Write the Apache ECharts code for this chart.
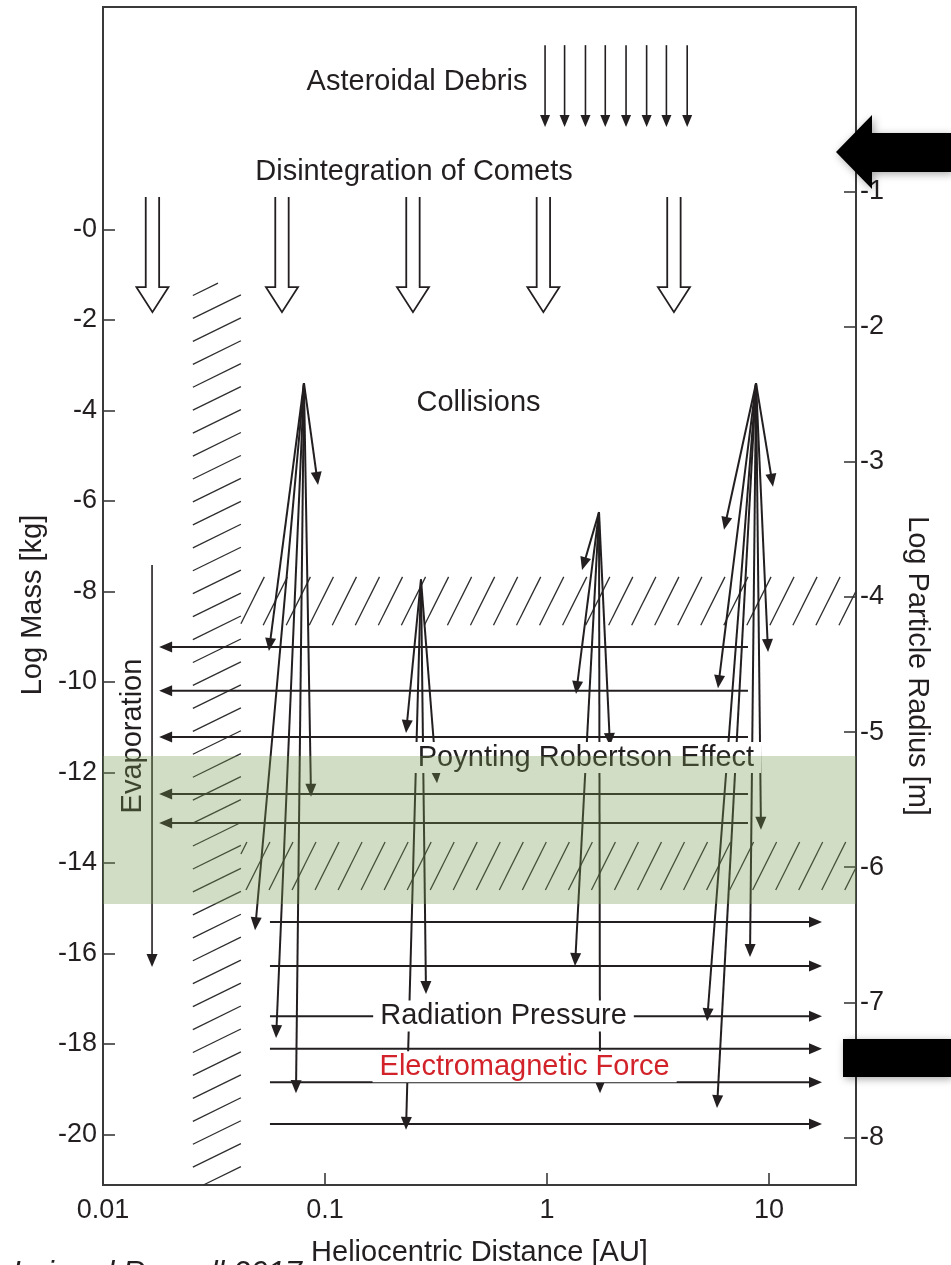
<!DOCTYPE html>
<html>
<head>
<meta charset="utf-8">
<title>Dust sources and sinks in the solar system</title>
<script src="https://cdn.jsdelivr.net/npm/echarts@6.0.0/dist/echarts.min.js"></script>
<style>
  html, body { margin: 0; padding: 0; background: #ffffff; }
  #chart { width: 951px; height: 1265px; }
</style>
</head>
<body>
<div id="chart"></div>
<script>
// ---------- axes ----------
const distanceTicks = [0.01, 0.1, 1, 10];                 // AU
const massTicks = [0, -2, -4, -6, -8, -10, -12, -14, -16, -18, -20];   // log kg
const radiusTicks = [-1, -2, -3, -4, -5, -6, -7, -8];     // log m
const distanceExtent = [0.01, 24.65];
const massExtent = [-21.12, 4.913];
const radiusExtent = [-8.352, 0.367];

// ---------- sources ----------
// asteroidal debris delivered from the main belt (AU), start/end log mass
const asteroidDistances = [0.98, 1.2, 1.49, 1.83, 2.27, 2.81, 3.45, 4.28];
const asteroidMass = [4.07, 2.26];
// disintegrating comets (AU), start/end log mass
const cometDistances = [0.0167, 0.064, 0.249, 0.963, 3.73];
const cometMass = [0.714, -1.83];

// ---------- collisional cascades: parent [AU, log kg] and fragments ----------
const fanApexes = [
  [0.0804, -3.40],
  [0.2706, -7.74],
  [1.715, -6.25],
  [8.74, -3.40]
];
const fanFragments = [
  [[0.0930, -5.65], [0.0559, -9.32], [0.0865, -12.54], [0.0484, -15.49], [0.0602, -17.87], [0.0740, -19.09]],
  [[0.2317, -11.13], [0.3195, -12.24], [0.2851, -16.90], [0.2317, -19.90]],
  [[1.438, -7.53], [1.351, -10.27], [1.922, -11.42], [1.337, -16.28], [1.733, -19.09]],
  [[10.42, -5.69], [6.27, -6.64], [9.90, -9.34], [5.89, -10.14], [9.20, -13.27], [8.21, -16.08], [5.26, -17.50], [5.83, -19.42]]
];

// ---------- transport ----------
// Poynting-Robertson drift toward the Sun
const prMasses = [-9.23, -10.20, -11.22, -12.48, -13.12];
const prDistance = [8.04, 0.0179];
// radiation-pressure blow-out
const radMasses = [-15.31, -16.28, -17.39, -18.11, -18.85, -19.77];
const radDistance = [0.0565, 17.33];
// evaporation near the Sun: distance, start/end log mass
const evaporation = [0.01663, -7.42, -16.3];

// ---------- zones ----------
const sublimationZone = [0.0254, 0.0418, -1.19];            // AU range, upper log mass
const hatchBands = [[-8.75, -7.68], [-14.60, -13.54]];      // log mass ranges
const hatchBandStart = 0.0418;                               // AU
const prBand = [-14.91, -11.64];                             // log mass range

// ---------- annotations ----------
const labelTexts = ['Asteroidal Debris', 'Disintegration of Comets', 'Collisions',
  'Poynting Robertson Effect', 'Radiation Pressure', 'Electromagnetic Force', 'Evaporation'];
const labelAnchors = [[0.2597, 3.262], [0.2518, 1.266], [0.4913, -3.839],
  [1.498, -11.673], [0.6368, -17.385], [0.7927, -18.506], [0.01372, -11.198]];

// ---------- styling ----------
const INK = '#231f20';
const FRAME = '#3a3a3a';
const FONT = '"Liberation Sans", Arial, Helvetica, sans-serif';
const labelLook = [
  {}, {}, {},
  { boxed: true },
  { boxed: true },
  { boxed: true, color: '#d2232a' },
  { rotation: Math.PI / 2 }
];

// ---------- helpers ----------
function arrowRenderer(lineWidth, headLen, headHalf) {
  return function (params, api) {
    const p1 = api.coord([api.value(0), api.value(1)]);
    const p2 = api.coord([api.value(2), api.value(3)]);
    const dx = p2[0] - p1[0], dy = p2[1] - p1[1];
    const len = Math.hypot(dx, dy) || 1;
    const ux = dx / len, uy = dy / len;
    const bx = p2[0] - ux * headLen, by = p2[1] - uy * headLen;
    return {
      type: 'group',
      children: [
        { type: 'line', shape: { x1: p1[0], y1: p1[1], x2: bx + ux * 3, y2: by + uy * 3 },
          style: { stroke: INK, lineWidth: lineWidth } },
        { type: 'polygon',
          shape: { points: [[p2[0], p2[1]], [bx - uy * headHalf, by + ux * headHalf], [bx + uy * headHalf, by - ux * headHalf]] },
          style: { fill: INK } }
      ]
    };
  };
}

// parallel strokes clipped to a rectangle
function hatchSegments(x0, y0, x1, y1, dir, step) {
  const l = Math.hypot(dir[0], dir[1]);
  const d = [dir[0] / l, dir[1] / l];
  const n = [-d[1], d[0]];
  const cs = [[x0, y0], [x1, y0], [x0, y1], [x1, y1]].map(p => p[0] * n[0] + p[1] * n[1]);
  const cmin = Math.min.apply(null, cs), cmax = Math.max.apply(null, cs);
  const segs = [];
  for (let c = Math.ceil(cmin / step) * step; c <= cmax; c += step) {
    const px = n[0] * c, py = n[1] * c;
    let t0 = -Infinity, t1 = Infinity;
    [[0, x0, x1], [1, y0, y1]].forEach(function (b) {
      const k = b[0];
      const base = k === 0 ? px : py;
      if (Math.abs(d[k]) < 1e-9) {
        if (base < b[1] || base > b[2]) { t0 = Infinity; }
        return;
      }
      let ta = (b[1] - base) / d[k], tb = (b[2] - base) / d[k];
      if (ta > tb) { const t = ta; ta = tb; tb = t; }
      t0 = Math.max(t0, ta); t1 = Math.min(t1, tb);
    });
    if (t1 - t0 > 2) segs.push([px + d[0] * t0, py + d[1] * t0, px + d[0] * t1, py + d[1] * t1]);
  }
  return segs;
}

function rectFromApi(api) {
  const a = api.coord([api.value(0), api.value(3)]);
  const b = api.coord([api.value(1), api.value(2)]);
  return {
    x0: Math.min(a[0], b[0]), x1: Math.max(a[0], b[0]),
    y0: Math.min(a[1], b[1]), y1: Math.max(a[1], b[1])
  };
}

// ---------- series data ----------
const asteroidArrows = asteroidDistances.map(x => [x, asteroidMass[0], x, asteroidMass[1]]);
const cometArrows = cometDistances.map(x => [x, cometMass[0], cometMass[1]]);
const collisionArrows = [];
fanApexes.forEach(function (a, i) {
  fanFragments[i].forEach(function (f) { collisionArrows.push([a[0], a[1], f[0], f[1]]); });
});
const transportArrows = []
  .concat(prMasses.map(m => [prDistance[0], m, prDistance[1], m]))
  .concat(radMasses.map(m => [radDistance[0], m, radDistance[1], m]));
const evaporationArrow = [[evaporation[0], evaporation[1], evaporation[0], evaporation[2]]];

const stripData = [[sublimationZone[0], sublimationZone[1], massExtent[0], sublimationZone[2]]];
const bandHatchData = hatchBands.map(b => [hatchBandStart, distanceExtent[1], b[0], b[1]]);
const prBandData = [[distanceExtent[0], distanceExtent[1], prBand[0], prBand[1]]];

function fmtDistance(v) {
  for (let i = 0; i < distanceTicks.length; i++) {
    if (Math.abs(v - distanceTicks[i]) / distanceTicks[i] < 1e-6) return String(distanceTicks[i]);
  }
  return '';
}

const chart = echarts.init(document.getElementById('chart'), null, { renderer: 'canvas' });

const hatchStyle = { stroke: '#2e2e2e', lineWidth: 1.3 };

chart.setOption({
  animation: false,
  backgroundColor: '#ffffff',
  textStyle: { fontFamily: FONT, color: INK },
  grid: {
    left: 103, right: 95, top: 7, bottom: 80,
    containLabel: false, outerBoundsMode: 'none',
    show: true, borderColor: FRAME, borderWidth: 2, backgroundColor: 'transparent'
  },
  xAxis: {
    type: 'log', logBase: 10,
    min: distanceExtent[0], max: distanceExtent[1],
    axisLine: { show: false, onZero: false },
    axisTick: { inside: true, length: 12, lineStyle: { color: FRAME, width: 1.6 } },
    axisLabel: { formatter: fmtDistance, fontSize: 27, color: INK, margin: 12, fontFamily: FONT, showMaxLabel: false },
    splitLine: { show: false },
    minorTick: { show: false },
    name: 'Heliocentric Distance [AU]',
    nameLocation: 'middle', nameGap: 53,
    nameTextStyle: { fontSize: 29, color: INK, fontFamily: FONT }
  },
  yAxis: [
    {
      type: 'value', position: 'left',
      min: massExtent[0], max: massExtent[1],
      axisLine: { show: false, onZero: false },
      axisTick: { inside: true, length: 12, customValues: massTicks, lineStyle: { color: FRAME, width: 1.6 } },
      axisLabel: {
        customValues: massTicks, fontSize: 27, color: INK, margin: 6, fontFamily: FONT,
        formatter: v => (v === 0 ? '-0' : String(v))
      },
      splitLine: { show: false },
      name: 'Log Mass [kg]',
      nameLocation: 'middle', nameGap: 52, nameRotate: 90,
      nameTextStyle: { fontSize: 29, color: INK, fontFamily: FONT, padding: [0, 18, 0, 0] }
    },
    {
      type: 'value', position: 'right',
      min: radiusExtent[0], max: radiusExtent[1],
      axisLine: { show: false, onZero: false },
      axisTick: { inside: true, length: 12, customValues: radiusTicks, lineStyle: { color: FRAME, width: 1.6 } },
      axisLabel: { customValues: radiusTicks, fontSize: 27, color: INK, margin: 4, fontFamily: FONT },
      splitLine: { show: false },
      name: 'Log Particle Radius [m]',
      nameLocation: 'middle', nameGap: 46, nameRotate: -90,
      nameTextStyle: { fontSize: 29, color: INK, fontFamily: FONT, padding: [0, 0, 0, 140] }
    }
  ],
  series: [
    {
      name: 'sublimation zone', type: 'custom', z: 1, silent: true,
      encode: { x: [0, 1], y: [2, 3] },
      data: stripData,
      renderItem: function (params, api) {
        const r = rectFromApi(api);
        return {
          type: 'group',
          children: hatchSegments(r.x0, r.y0, r.x1, r.y1, [1, -0.49], 20.6).map(s => ({
            type: 'line', shape: { x1: s[0], y1: s[1], x2: s[2], y2: s[3] }, style: hatchStyle
          }))
        };
      }
    },
    {
      name: 'hatched bands', type: 'custom', z: 1, silent: true,
      encode: { x: [0, 1], y: [2, 3] },
      data: bandHatchData,
      renderItem: function (params, api) {
        const r = rectFromApi(api);
        return {
          type: 'group',
          children: hatchSegments(r.x0, r.y0, r.x1, r.y1, [0.5, -1], 20.6).map(s => ({
            type: 'line', shape: { x1: s[0], y1: s[1], x2: s[2], y2: s[3] }, style: hatchStyle
          }))
        };
      }
    },
    {
      name: 'asteroidal debris', type: 'custom', z: 2, silent: true,
      encode: { x: [0, 2], y: [1, 3] },
      data: asteroidArrows,
      renderItem: arrowRenderer(1.6, 12, 5)
    },
    {
      name: 'comets', type: 'custom', z: 2, silent: true,
      encode: { x: 0, y: [1, 2] },
      data: cometArrows,
      renderItem: function (params, api) {
        const top = api.coord([api.value(0), api.value(1)]);
        const tip = api.coord([api.value(0), api.value(2)]);
        const cx = top[0], sw = 6.7, hw = 16, base = tip[1] - 25;
        return {
          type: 'polyline',
          shape: { points: [[cx - sw, top[1]], [cx - sw, base], [cx - hw, base], [cx, tip[1]],
                            [cx + hw, base], [cx + sw, base], [cx + sw, top[1]]] },
          style: { stroke: INK, lineWidth: 1.8, fill: null, lineJoin: 'miter' }
        };
      }
    },
    {
      name: 'collisions', type: 'custom', z: 2, silent: true,
      encode: { x: [0, 2], y: [1, 3] },
      data: collisionArrows,
      renderItem: arrowRenderer(2, 13, 5.5)
    },
    {
      name: 'transport', type: 'custom', z: 2, silent: true,
      encode: { x: [0, 2], y: [1, 3] },
      data: transportArrows,
      renderItem: arrowRenderer(2, 13, 5.5)
    },
    {
      name: 'evaporation', type: 'custom', z: 2, silent: true,
      encode: { x: [0, 2], y: [1, 3] },
      data: evaporationArrow,
      renderItem: arrowRenderer(1.6, 13, 5.5)
    },
    {
      name: 'labels', type: 'custom', z: 3, silent: true,
      encode: { x: 0, y: 1 },
      data: labelAnchors,
      renderItem: function (params, api) {
        const i = params.dataIndex;
        const look = labelLook[i];
        const p = api.coord([api.value(0), api.value(1)]);
        return {
          type: 'text', x: p[0], y: p[1], rotation: look.rotation || 0,
          style: {
            text: labelTexts[i], fill: look.color || INK,
            fontSize: 29, fontFamily: FONT,
            align: 'center', verticalAlign: 'middle',
            backgroundColor: look.boxed ? '#ffffff' : null,
            padding: look.boxed ? [1, 7, 1, 7] : 0
          }
        };
      }
    },
    {
      name: 'Poynting-Robertson band', type: 'custom', z: 4, silent: true,
      encode: { x: [0, 1], y: [2, 3] },
      data: prBandData,
      renderItem: function (params, api) {
        const r = rectFromApi(api);
        return {
          type: 'rect', shape: { x: r.x0, y: r.y0, width: r.x1 - r.x0, height: r.y1 - r.y0 },
          style: { fill: 'rgba(118,152,78,0.33)' }
        };
      }
    }
  ],
  graphic: [
    {
      type: 'polygon', z: 100, silent: true,
      shape: { points: [[836, 152], [872, 115], [872, 133], [951, 133], [951, 172], [872, 172], [872, 189]] },
      style: { fill: '#000000', shadowBlur: 8, shadowColor: 'rgba(0,0,0,0.35)', shadowOffsetX: 2, shadowOffsetY: 2 }
    },
    {
      type: 'rect', z: 100, silent: true,
      shape: { x: 843, y: 1039, width: 108, height: 38 },
      style: { fill: '#000000', shadowBlur: 8, shadowColor: 'rgba(0,0,0,0.35)', shadowOffsetX: 2, shadowOffsetY: 2 }
    },
    {
      type: 'text', z: 100, silent: true, x: 302, y: 1259,
      style: {
        text: 'Lai and Russell 2017', fill: INK,
        font: 'italic 31px "Liberation Sans", Arial, sans-serif',
        align: 'right', verticalAlign: 'top'
      }
    }
  ]
});
</script>
</body>
</html>
